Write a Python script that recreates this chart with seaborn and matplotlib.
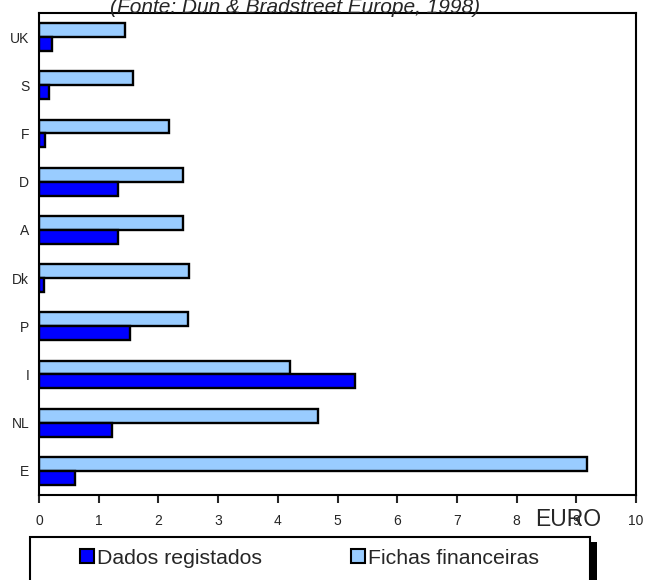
import matplotlib
matplotlib.use("Agg")
import matplotlib.pyplot as plt
from matplotlib.patches import Patch, Rectangle
import seaborn as sns
import pandas as pd

countries = ["UK", "S", "F", "D", "A", "Dk", "P", "I", "NL", "E"]
fichas = [1.44, 1.57, 2.17, 2.42, 2.42, 2.51, 2.50, 4.20, 4.67, 9.18]
dados = [0.22, 0.17, 0.10, 1.32, 1.32, 0.08, 1.52, 5.30, 1.22, 0.60]
series_names = ["Fichas financeiras", "Dados registados"]
colors = {"Fichas financeiras": "#99CCFF", "Dados registados": "#0000FF"}
x_ticks = list(range(0, 11))

df = pd.DataFrame({
    "country": countries * 2,
    "value": fichas + dados,
    "series": [series_names[0]] * len(countries) + [series_names[1]] * len(countries),
})

sns.set_style("white")
plt.rcParams["font.family"] = ["Liberation Sans", "DejaVu Sans"]

fig = plt.figure(figsize=(6.45, 5.8), dpi=100)
W, H = 645, 580
ax = fig.add_axes([39 / W, 1 - 495 / H, (636 - 39) / W, (495 - 13) / H])

sns.barplot(data=df, y="country", x="value", hue="series", order=countries,
            hue_order=series_names, palette=colors, orient="h", width=0.58,
            edgecolor="black", linewidth=1.7, saturation=1, legend=False, ax=ax)

ax.set_xlim(0, 10)
ax.set_ylim(9.5, -0.5)
ax.set_xticks(x_ticks)
ax.set_xticklabels([str(t) for t in x_ticks])
ax.set_xlabel("")
ax.set_ylabel("")
for s in ax.spines.values():
    s.set_visible(True)
    s.set_linewidth(1.5)
    s.set_color("black")
ax.tick_params(axis="x", direction="out", length=6, width=1.5, pad=8,
               labelsize=10, bottom=True)
ax.tick_params(axis="y", length=0, pad=7, labelsize=10)

# title (clipped at top of figure)
fig.text(295 / W, 1 - 13 / H, "(Fonte: Dun & Bradstreet Europe, 1998)",
         ha="center", va="baseline", fontsize=15, style="italic")

# axis unit label
fig.text(568 / W, 1 - 519 / H, "EURO", ha="center", va="center", fontsize=16.5)

# legend box with shadow
fig.patches.append(Rectangle((590 / W, 0), 7 / W, (580 - 542) / H,
                             transform=fig.transFigure, facecolor="black",
                             edgecolor="none", zorder=1))
fig.patches.append(Rectangle((30 / W, -0.02), 560 / W, (580 - 537) / H + 0.02,
                             transform=fig.transFigure, facecolor="white",
                             edgecolor="black", linewidth=1.5, zorder=2))

handles = [Patch(facecolor=colors["Dados registados"], edgecolor="black", linewidth=1.5),
           Patch(facecolor=colors["Fichas financeiras"], edgecolor="black", linewidth=1.5)]
labels = ["Dados registados", "Fichas financeiras"]
leg = fig.legend(handles, labels, ncol=2, loc="center",
                 bbox_to_anchor=(309.5 / W, 1 - 558 / H), frameon=False,
                 fontsize=15.3, handlelength=0.66, handleheight=0.66,
                 handletextpad=0.15, columnspacing=4.2, borderpad=0)
leg.set_zorder(5)

fig.savefig("out.png", dpi=100)
